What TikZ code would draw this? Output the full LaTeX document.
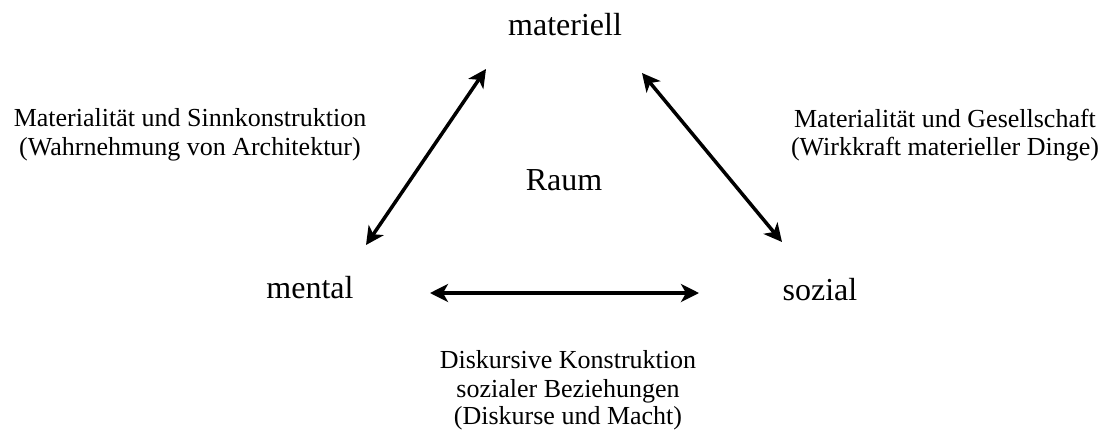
\documentclass[tikz,border=0pt]{standalone}
\usepackage{fontspec}
\setmainfont{Liberation Serif}
\usetikzlibrary{arrows.meta}
\begin{document}
\begin{tikzpicture}[x=1pt,y=-1pt,
  corner/.style={font=\fontsize{32}{36}\selectfont, inner sep=0pt, anchor=base},
  lbl/.style={font=\fontsize{26}{29}\selectfont, inner sep=0pt, anchor=base},
  link/.style={line width=3.5pt, {Stealth[length=18pt,width=18pt,inset=5pt]}-{Stealth[length=18pt,width=18pt,inset=5pt]}}]
\useasboundingbox (0,0) rectangle (1105,432);
\node[corner] (mat) at (565,35) {materiell};
\node[corner] (men) at (310,298) {mental};
\node[corner] (soz) at (820,300) {sozial};
\node[corner] (raum) at (564,190) {Raum};
\node[lbl] (l1) at (190,126) {Materialität und Sinnkonstruktion};
\node[lbl] (l2) at (190,155) {(Wahrnehmung von Architektur)};
\node[lbl] (r1) at (945,127) {Materialität und Gesellschaft};
\node[lbl] (r2) at (945,155) {(Wirkkraft materieller Dinge)};
\node[lbl] (b1) at (568,368) {Diskursive Konstruktion};
\node[lbl] (b2) at (568,397) {sozialer Beziehungen};
\node[lbl] (b3) at (568,424) {(Diskurse und Macht)};
\coordinate (matL) at (486,69);
\coordinate (menT) at (366,245);
\coordinate (matR) at (642,73);
\coordinate (sozT) at (782,242);
\coordinate (menR) at (430,293);
\coordinate (sozL) at (699,293);
\draw[link] (matL) -- (menT);
\draw[link] (matR) -- (sozT);
\draw[link] (menR) -- (sozL);
\end{tikzpicture}
\end{document}
